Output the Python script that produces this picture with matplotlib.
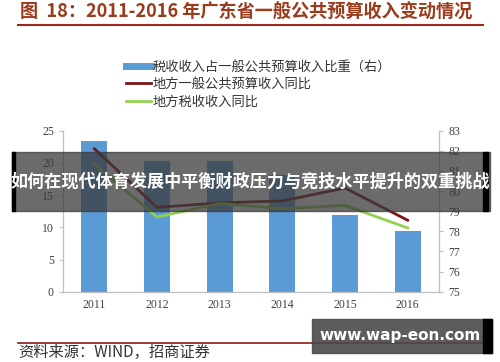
import numpy as np
import matplotlib.pyplot as plt
from matplotlib.patches import Rectangle
from matplotlib.lines import Line2D

plt.rcParams['font.family'] = ['Noto Sans CJK SC', 'DejaVu Sans']

years = ['2011', '2012', '2013', '2014', '2015', '2016']
tax_share = [82.5, 81.5, 81.5, 80.8, 78.8, 78.0]        # right axis, bars
budget_yoy = [22.2, 13.1, 13.8, 14.1, 16.1, 11.1]      # left axis
tax_yoy = [19.8, 11.6, 13.7, 12.9, 13.4, 9.9]          # left axis

legend_labels = ['税收收入占一般公共预算收入比重（右）', '地方一般公共预算收入同比', '地方税收收入同比']
title = '图  18：2011-2016 年广东省一般公共预算收入变动情况'
source = '资料来源：WIND，招商证券'

blue = '#5b9bd5'
dark_red = '#7a1717'
green = '#92d050'
grey = '#bfbfbf'

fig = plt.figure(figsize=(5, 3.62), dpi=100)
ax = fig.add_axes([0.126, 0.194, 0.752, 0.445])
ax2 = ax.twinx()

x = np.arange(len(years))
ax2.bar(x, np.array(tax_share) - 75, bottom=75, width=0.41, color=blue, zorder=1)
ax.plot(x, budget_yoy, color=dark_red, lw=2, zorder=3)
ax.plot(x, tax_yoy, color=green, lw=2, zorder=3)
ax.set_zorder(ax2.get_zorder() + 1)
ax.patch.set_visible(False)

ax.set_xlim(-0.5, 5.5)
ax.set_ylim(0, 25)
ax.set_yticks([0, 5, 10, 15, 20, 25])
ax2.set_ylim(75, 83)
ax2.set_yticks(range(75, 84))
ax.set_xticks(x)
ax.set_xticklabels(years)

for a in (ax, ax2):
    for s in a.spines.values():
        s.set_color(grey)
    a.spines['top'].set_visible(False)
    a.tick_params(colors='#404040', labelsize=8.5, length=3, color=grey)
    for lab in a.get_yticklabels() + a.get_xticklabels():
        lab.set_fontfamily('Liberation Serif')
ax.tick_params(axis='x', length=0, pad=5)

# legend
handles = [Line2D([], [], color=blue, lw=5),
           Line2D([], [], color=dark_red, lw=2),
           Line2D([], [], color=green, lw=2)]
fig.legend(handles, legend_labels, loc='upper left', bbox_to_anchor=(0.228, 0.865),
           frameon=False, fontsize=9.5, handlelength=1.9, handletextpad=0.15,
           labelspacing=0.33, labelcolor='#333333')

# title and rules
fig.text(0.04, 0.965, title, fontsize=13.1, fontweight='bold', color='#9c3a1c', va='center')
fig.add_artist(Line2D([0.036, 0.966], [0.932, 0.932], color='#9c2a1c', lw=1.5))
fig.add_artist(Line2D([0.036, 0.966], [0.052, 0.052], color='#8b1a1a', lw=1.2))
fig.text(0.036, 0.025, source, fontsize=11, color='#333333', va='center')

# overlay banners
fig.add_artist(Rectangle((0.024, 0.417), 0.956, 0.163, transform=fig.transFigure,
                         color='#3a3a3a', alpha=0.75, zorder=10))
fig.add_artist(Rectangle((0.024, 0.417), 0.006, 0.163, transform=fig.transFigure,
                         color='black', zorder=10))
fig.add_artist(Rectangle((0.966, 0.417), 0.01, 0.163, transform=fig.transFigure,
                         color='black', zorder=10))
fig.text(0.5, 0.497, '如何在现代体育发展中平衡财政压力与竞技水平提升的双重挑战',
         fontsize=12.3, fontweight='bold', color='white', ha='center', va='center', zorder=11)
fig.add_artist(Rectangle((0.624, 0.025), 0.36, 0.094, transform=fig.transFigure,
                         color='#4a4a4a', alpha=0.9, zorder=10))
fig.add_artist(Rectangle((0.966, 0.025), 0.018, 0.094, transform=fig.transFigure,
                         color='black', zorder=10))
fig.text(0.8, 0.072, 'www.wap-eon.com', fontsize=11, fontweight='bold', color='white',
         ha='center', va='center', zorder=11, family='DejaVu Sans')

fig.savefig('out.png', dpi=100)
